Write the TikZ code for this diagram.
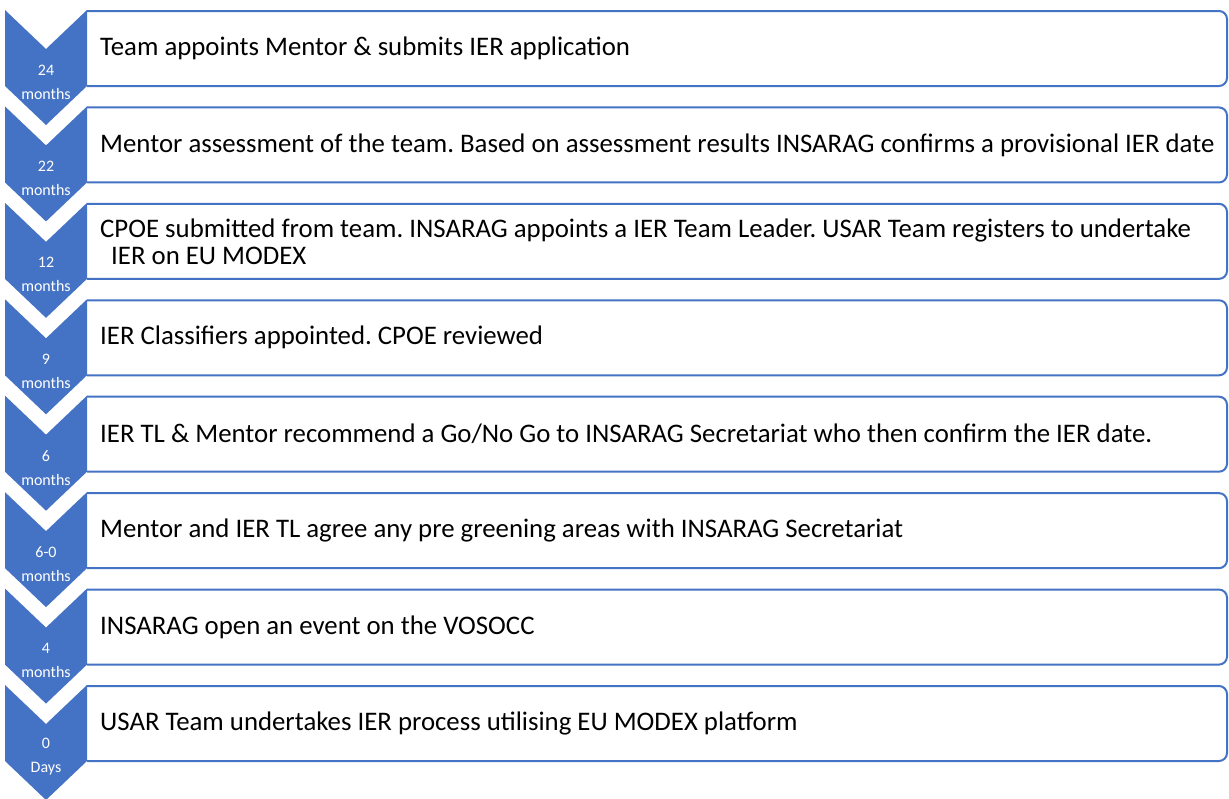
\documentclass[tikz,border=0pt]{standalone}
\usepackage{fontspec}
\setmainfont{Carlito}
\frenchspacing
\definecolor{accent}{HTML}{4472C4}
\tikzset{
  boxline/.style={draw=accent, line width=2pt, fill=white, rounded corners=8pt},
  chevfill/.style={fill=accent},
  chevlabel/.style={text=white, font=\fontsize{16}{24}\selectfont, align=center, inner sep=0pt},
  steptext/.style={anchor=west, font=\fontsize{26.8}{27}\selectfont, align=left, inner sep=0pt, text=black},
}
\newcommand\ierrow[4]{%
  \draw[boxline] (87,#2+1) -- (1227,#2+1) -- (1227,#2+76) -- (87,#2+76);
  \fill[chevfill] (5,#2) -- (46,#2+39) -- (87,#2) -- (87,#2+76) -- (46,#2+115) -- (5,#2+76) -- cycle;
  \node[chevlabel] (c#1) at (46,#2+72) {#3};
  \node[steptext] (t#1) at (100,#2+38.5) {#4};
}
\begin{document}
\begin{tikzpicture}[x=1pt,y=-1pt]
\useasboundingbox (0,0) rectangle (1229,798);
\ierrow{1}{10}{24\\months}{Team appoints Mentor \& submits IER application}
\ierrow{2}{106.43}{22\\months}{Mentor assessment of the team. Based on assessment results INSARAG confirms a provisional IER date}
\ierrow{3}{202.86}{12\\months}{CPOE submitted from team. INSARAG appoints a IER Team Leader. USAR Team registers to undertake\\\hspace*{11pt}IER on EU MODEX}
\ierrow{4}{299.29}{9\\months}{IER Classifiers appointed. CPOE reviewed}
\ierrow{5}{395.71}{6\\months}{IER TL \& Mentor recommend a Go/No Go to INSARAG Secretariat who then confirm the IER date.}
\ierrow{6}{492.14}{6-0\\months}{Mentor and IER TL agree any pre greening areas with INSARAG Secretariat}
\ierrow{7}{588.57}{4\\months}{INSARAG open an event on the VOSOCC}
\ierrow{8}{685}{0\\Days}{USAR Team undertakes IER process utilising EU MODEX platform}
\end{tikzpicture}
\end{document}
